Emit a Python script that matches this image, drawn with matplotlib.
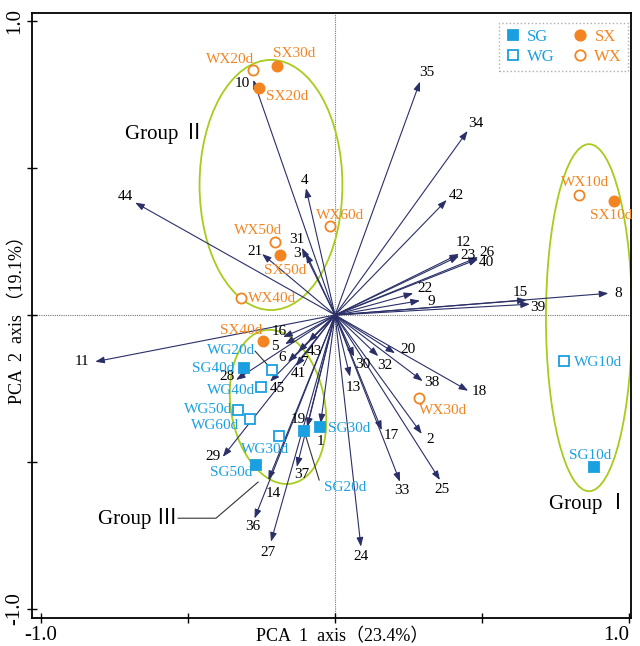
import matplotlib
matplotlib.use("Agg")
import matplotlib.pyplot as plt
from matplotlib.patches import Ellipse
from matplotlib.lines import Line2D

# --- PCA loadings (variable arrows) ---
var_ids = list(range(1, 46))
load_pc1 = [-0.049, 0.295, -0.099, -0.099, -0.170, -0.160, -0.126, 0.930, 0.289, -0.278,
            -0.816, 0.422, 0.051, -0.227, 0.652, -0.177, 0.159, 0.453, -0.095, 0.204,
            -0.248, 0.266, 0.422, 0.088, 0.357, 0.487, -0.218, -0.337, -0.382, 0.065,
            -0.113, 0.147, 0.221, 0.451, 0.289, -0.274, -0.130, 0.298, 0.663, 0.487,
            -0.133, 0.380, -0.091, -0.680, -0.221]
load_pc2 = [-0.369, -0.405, 0.210, 0.432, -0.099, -0.160, -0.126, 0.074, 0.049, 0.801,
            -0.159, 0.208, -0.210, -0.562, 0.051, -0.075, -0.392, -0.258, -0.382, -0.130,
            0.208, 0.074, 0.201, -0.789, -0.562, 0.197, -0.772, -0.221, -0.483, -0.142,
            0.229, -0.140, -0.568, 0.627, 0.795, -0.693, -0.517, -0.225, 0.037, 0.191,
            -0.174, 0.392, -0.091, 0.383, -0.227]

# --- sample scores ---
sample_names = ["SG10d", "SG20d", "SG30d", "SG40d", "SG50d",
                "WG10d", "WG20d", "WG30d", "WG40d", "WG50d", "WG60d",
                "SX10d", "SX20d", "SX30d", "SX40d", "SX50d",
                "WX10d", "WX20d", "WX30d", "WX40d", "WX50d", "WX60d"]
sample_group = ["SG"] * 5 + ["WG"] * 6 + ["SX"] * 5 + ["WX"] * 6
sample_pc1 = [0.882, -0.105, -0.052, -0.311, -0.268,
              0.780, -0.213, -0.189, -0.251, -0.329, -0.289,
              0.949, -0.259, -0.197, -0.246, -0.187,
              0.829, -0.278, 0.287, -0.321, -0.203, -0.017]
sample_pc2 = [-0.518, -0.395, -0.382, -0.182, -0.510,
              -0.158, -0.188, -0.413, -0.244, -0.324, -0.355,
              0.387, 0.772, 0.848, -0.088, 0.203,
              0.409, 0.834, -0.283, 0.058, 0.248, 0.303]

# label offsets in pixels (dx, dy up)
var_offsets = {
    1: (0, -18), 2: (8, -6), 3: (-9, 0), 4: (-1, 8), 5: (-10, -2), 6: (-6, 5),
    7: (7, -10), 8: (10, 0), 9: (11, -1), 10: (-11, -4), 11: (-13, 0), 12: (4, 11),
    13: (3, -11), 14: (5, -13), 15: (-6, 8), 16: (-4, 6), 17: (10, -5), 18: (11, -1),
    19: (-9, 8), 20: (13, 4), 21: (-7, 2), 22: (12, 5), 23: (9, 1), 24: (0, -10),
    25: (2, -9), 26: (9, 5), 27: (-3, -11), 28: (-9, 3), 29: (-10, 0), 30: (9, -8),
    31: (-5, 8), 32: (7, -9), 33: (2, -9), 34: (8, 7), 35: (7, 9), 36: (-2, -8),
    37: (5, -8), 38: (9, -1), 39: (8, -3), 40: (8, -4), 41: (2, -7), 42: (10, 4),
    43: (6, -10), 44: (-10, 6), 45: (7, -7),
}
# (dx, dy, ha)
sample_offsets = {
    "SG10d": (-4, 12, "center"), "SG20d": (41, -56, "center"), "SG30d": (8, -1, "left"),
    "SG40d": (-9, 0, "right"), "SG50d": (-4, -8, "right"),
    "WG10d": (10, -1, "left"), "WG20d": (-17, 20, "right"), "WG30d": (-14, -13, "center"),
    "WG40d": (-6, -4, "right"), "WG50d": (-6, 1, "right"), "WG60d": (-11, -6, "right"),
    "SX10d": (-3, -14, "center"), "SX20d": (7, -8, "left"), "SX30d": (-4, 13, "left"),
    "SX40d": (0, 10, "right"), "SX50d": (5, -15, "center"),
    "WX10d": (6, 12, "center"), "WX20d": (1, 11, "right"), "WX30d": (0, -12, "left"),
    "WX40d": (7, 0, "left"), "WX50d": (-17, 12, "center"), "WX60d": (10, 11, "center"),
}

NAVY = "#2a2f68"
ORANGE = "#f28522"
BLUE = "#1a9fe0"
GREEN = "#a6cc1c"
SERIF = ["Liberation Serif", "Noto Sans CJK SC"]

plt.rcParams["font.family"] = SERIF

fig = plt.figure(figsize=(6.4, 6.46), dpi=100)
ax = fig.add_axes([0.05, 0.0433, 0.936, 0.9367])
ax.set_xlim(-1.031, 1.007)
ax.set_ylim(-1.032, 1.029)

ax.axvline(0, color="#777777", lw=0.8, ls=(0, (1, 1)), zorder=0)
ax.axhline(0, color="#777777", lw=0.8, ls=(0, (1, 1)), zorder=0)

# group ellipses
for cx, cy, w, h, ang in [(-0.218, 0.443, 0.486, 0.852, 0),
                          (0.864, -0.009, 0.293, 1.182, 0),
                          (-0.194, -0.313, 0.32, 0.53, 10)]:
    ax.add_patch(Ellipse((cx, cy), w, h, angle=ang, fill=False,
                         edgecolor=GREEN, lw=1.3, zorder=1))

# variable arrows
for vid, x, y in zip(var_ids, load_pc1, load_pc2):
    ax.annotate("", xy=(x, y), xytext=(0, 0),
                arrowprops=dict(arrowstyle="-|>,head_length=0.6,head_width=0.22",
                                color=NAVY, lw=0.8, shrinkA=0, shrinkB=0,
                                mutation_scale=9), zorder=2)
    dx, dy = var_offsets[vid]
    ax.annotate(str(vid), xy=(x, y), xytext=(dx, dy), textcoords="offset pixels",
                ha="center", va="center", fontsize=11, color="black", zorder=3)

# leader lines
ax.plot([-0.272, -0.213], [-0.123, -0.188], color="#333333", lw=0.8, zorder=2)
ax.plot([-0.105, -0.054], [-0.395, -0.562], color="#333333", lw=0.8, zorder=2)
ax.plot([-0.534, -0.405, -0.262], [-0.692, -0.692, -0.569], color="#333333", lw=0.8)

# samples
styles = {
    "SG": dict(marker="s", color=BLUE, filled=True),
    "WG": dict(marker="s", color=BLUE, filled=False),
    "SX": dict(marker="o", color=ORANGE, filled=True),
    "WX": dict(marker="o", color=ORANGE, filled=False),
}
for name, grp, x, y in zip(sample_names, sample_group, sample_pc1, sample_pc2):
    st = styles[grp]
    ax.plot(x, y, marker=st["marker"], ms=7.3, mec=st["color"], mew=1.3,
            mfc=st["color"] if st["filled"] else "white", ls="none", zorder=4)
    dx, dy, ha = sample_offsets[name]
    ax.annotate(name, xy=(x, y), xytext=(dx, dy), textcoords="offset pixels",
                ha=ha, va="center", fontsize=11, color=st["color"], zorder=5)

# group labels
ax.text(-0.578, 0.62, "Group Ⅱ", fontsize=15, ha="center", va="center")
ax.text(0.864, -0.641, "Group Ⅰ", fontsize=15, ha="center", va="center")
ax.text(-0.537, -0.692, "Group Ⅲ", fontsize=15, ha="right", va="center")

# legend
handles = []
for grp in ["SG", "WG", "SX", "WX"]:
    st = styles[grp]
    handles.append(Line2D([], [], marker=st["marker"], ls="none", ms=7.5, mew=1.3,
                          mec=st["color"],
                          mfc=st["color"] if st["filled"] else "white", label=grp))
leg = ax.legend(handles=handles, ncol=2, loc="upper right",
                bbox_to_anchor=(0.995, 0.983), borderaxespad=0, fontsize=12,
                labelcolor=[BLUE, BLUE, ORANGE, ORANGE],
                handlelength=0.9, handletextpad=0.4, columnspacing=1.1,
                borderpad=0.35, labelspacing=0.25, fancybox=False)
leg.get_frame().set_edgecolor("#999999")
leg.get_frame().set_linestyle(":")
leg.get_frame().set_linewidth(1.0)

# axes styling
ticks = [-1.0, -0.5, 0.0, 0.5, 1.0]
ax.set_xticks(ticks, ["-1.0", "", "", "", "1.0"])
ax.set_yticks(ticks, ["-1.0", "", "", "", "1.0"])
for lab in ax.get_yticklabels():
    lab.set_rotation(90)
    lab.set_va("center")
ax.tick_params(direction="inout", length=7, width=1.0, labelsize=15, pad=2)
ax.get_xticklabels()[-1].set_ha("right")
for sp in ax.spines.values():
    sp.set_linewidth(1.3)

ax.set_xlabel("PCA  1  axis（23.4%）", fontsize=13)
ax.set_ylabel("PCA  2  axis （19.1%）", fontsize=13)
ax.xaxis.set_label_coords(0.517, -0.031)
ax.yaxis.set_label_coords(-0.024, 0.5)
ax.xaxis.label.set_va("center")
ax.yaxis.label.set_va("center")

fig.savefig("out.png", dpi=100)
